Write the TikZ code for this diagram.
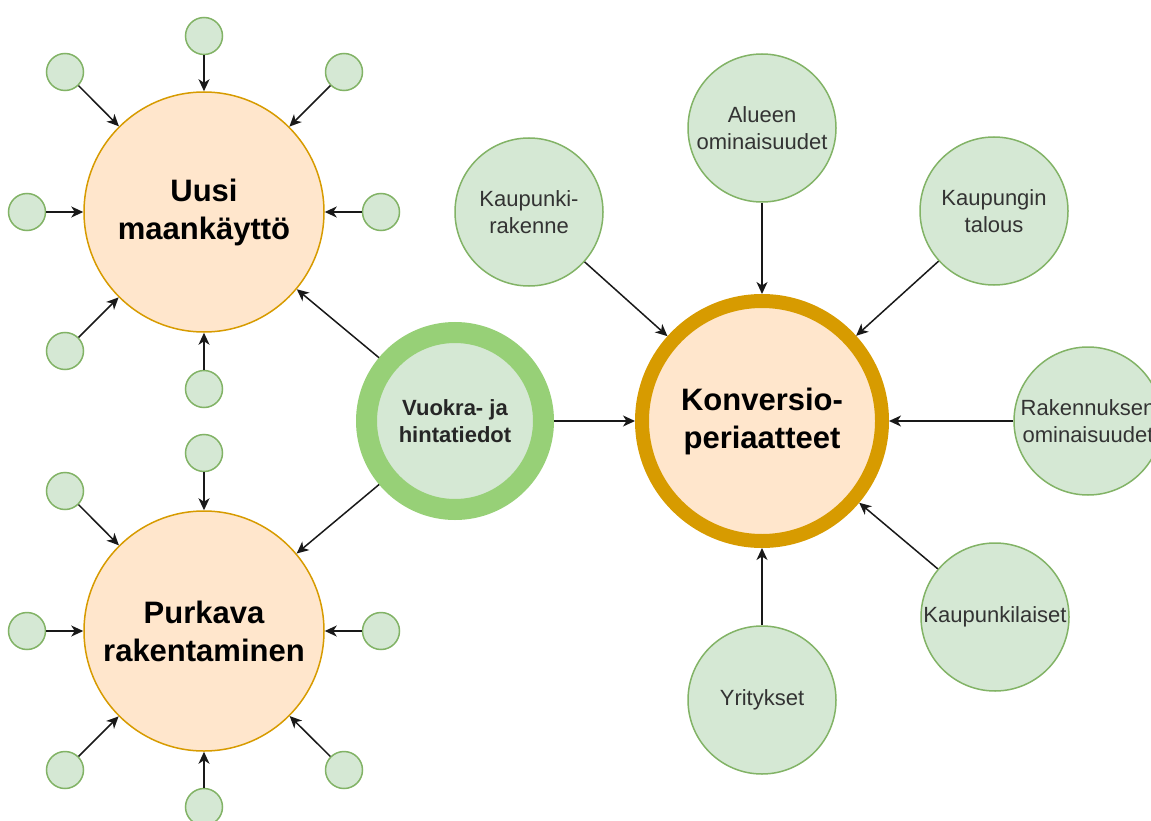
\documentclass[tikz,border=0pt]{standalone}
\usepackage{fontspec}
\setmainfont{Liberation Sans}
\usetikzlibrary{arrows.meta}
\definecolor{gfill}{HTML}{D5E8D4}
\definecolor{gline}{HTML}{82B366}
\definecolor{ofill}{HTML}{FFE6CC}
\definecolor{oline}{HTML}{D79B00}
\definecolor{vline}{HTML}{97D077}
\begin{document}
\begin{tikzpicture}[x=1pt,y=-1pt,
 dot/.style={circle,fill=gfill,draw=gline,line width=1.5pt,minimum size=37pt,inner sep=0pt},
 sat/.style={circle,fill=gfill,draw=gline,line width=1.5pt,minimum size=148pt,inner sep=0pt,align=center,font=\fontsize{22}{27}\selectfont,text=black!80},
 hub/.style={circle,fill=ofill,draw=oline,line width=1.5pt,minimum size=240pt,inner sep=0pt,align=center,font=\fontsize{31}{38}\selectfont\bfseries},
 ring/.style={circle,fill=gfill,draw=vline,line width=21pt,minimum size=177pt,inner sep=0pt,align=center,font=\fontsize{22}{27}\selectfont\bfseries,text=black!85},
 arr/.style={-{Stealth[length=12pt,width=11pt,inset=3.5pt]},line width=1.5pt,black!90}
]
\path[use as bounding box,clip] (0,0) rectangle (1151,821);

% hubs
\node[hub] (uusi) at (204,212) {Uusi\\maankäyttö};
\node[hub] (purk) at (204,631) {Purkava\\rakentaminen};
\node[hub,line width=14pt] (konv) at (762,421) {Konversio-\\periaatteet};
\node[ring] (vuok) at (455,421) {Vuokra- ja\\hintatiedot};

% satellites of Konversio
\node[sat] (alue) at (762,128) {Alueen\\ominaisuudet};
\node[sat] (kr) at (529,212) {Kaupunki-\\rakenne};
\node[sat] (kt) at (994,211) {Kaupungin\\talous};
\node[sat] (rak) at (1088,421) {Rakennuksen\\ominaisuudet};
\node[sat] (kl) at (995,617) {Kaupunkilaiset};
\node[sat] (yr) at (762,700) {Yritykset};

% small dots around Uusi
\node[dot] (u1) at (204,36) {};
\node[dot] (u2) at (65,72) {};
\node[dot] (u3) at (344,72) {};
\node[dot] (u4) at (27,212) {};
\node[dot] (u5) at (381,212) {};
\node[dot] (u6) at (65,351) {};
\node[dot] (u7) at (204,389) {};

% small dots around Purkava
\node[dot] (p1) at (204,453) {};
\node[dot] (p2) at (65,491) {};
\node[dot] (p3) at (27,631) {};
\node[dot] (p4) at (381,631) {};
\node[dot] (p5) at (65,770) {};
\node[dot] (p6) at (204,807) {};
\node[dot] (p7) at (344,770) {};

% arrows
\foreach \n in {u1,u2,u3,u4,u5,u6,u7} \draw[arr] (\n) -- (uusi);
\foreach \n in {p1,p2,p3,p4,p5,p6,p7} \draw[arr] (\n) -- (purk);
\foreach \n in {alue,kr,kt,rak,kl,yr} \draw[arr] (\n) -- (konv);
\draw[arr] (vuok) -- (uusi);
\draw[arr] (vuok) -- (purk);
\draw[arr] (vuok) -- (konv);
\end{tikzpicture}
\end{document}
